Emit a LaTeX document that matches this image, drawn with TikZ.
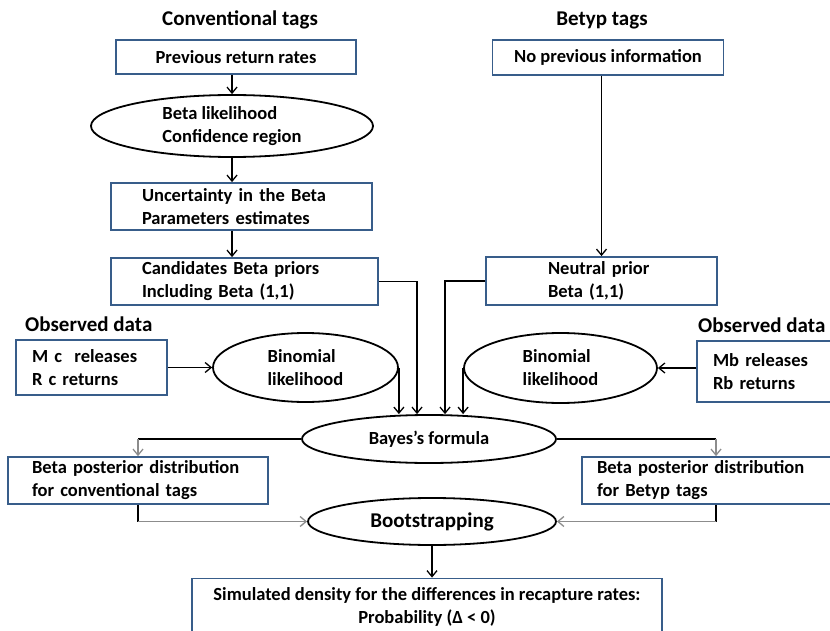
\documentclass[tikz,border=0pt]{standalone}
\usepackage{fontspec}
\setmainfont{Carlito}
\usetikzlibrary{shapes.geometric,arrows.meta}
\definecolor{boxblue}{RGB}{56,93,138}
\definecolor{arrowgray}{RGB}{140,140,140}
\tikzset{
  base/.style={font=\bfseries\fontsize{18.5}{23}\selectfont},
  head/.style={font=\bfseries\fontsize{21}{25}\selectfont, inner sep=0pt},
  cbox/.style={base, rectangle, draw=boxblue, line width=1.8pt, align=center},
  lbox/.style 2 args={base, rectangle, draw=boxblue, line width=1.8pt,
    inner xsep=#1, inner ysep=0pt, text width=#2, align=left},
  oval/.style={base, ellipse, draw, line width=1.8pt, inner sep=0pt},
  link/.style={line width=1.3pt},
  arr/.style={link, -{Straight Barb[length=6pt,width=10pt]}},
  garr/.style={link, arrowgray, -{Straight Barb[length=6pt,width=10pt]}}
}

\begin{document}
\begin{tikzpicture}[x=1pt,y=-1pt]
   \useasboundingbox (0,0) rectangle (830,631);

   % conventional tags
   \node[head] (ttlconv) at (240,20) {Conventional tags};
   \node[cbox, minimum width=240pt, minimum height=34pt] (prevrates) at (236,57) {Previous return rates};
   \node[oval, minimum width=282pt, minimum height=62pt, align=left] (betalik) at (232,126) {Beta likelihood\\Confidence region};
   \node[lbox={31pt}{199pt}, minimum height=47pt] (uncert) at (241.5,206.5) {Uncertainty in the Beta\\Parameters estimates};
   \node[lbox={31pt}{205pt}, minimum height=47pt] (candprior) at (244.5,281.5) {Candidates Beta priors\\Including Beta (1,1)};

   % betyp tags
   \node[head] (ttlbetyp) at (602,20) {Betyp tags};
   \node[cbox, minimum width=231pt, minimum height=35pt] (noinfo) at (608,57.5) {No previous information};
   \node[lbox={62pt}{107pt}, minimum height=48pt] (neutral) at (601.5,281) {Neutral prior\\Beta (1,1)};

   % observed data
   \node[head, anchor=west] (obsttlC) at (25,324) {Observed data};
   \node[lbox={16pt}{119pt}, minimum height=55pt] (obsC) at (91.5,367.5) {M c\ \ releases\\R c returns};
   \node[oval, minimum width=185pt, minimum height=69pt, align=left] (binomC) at (305.5,367.5) {Binomial\\likelihood};

   \node[head, anchor=west] (obsttlB) at (698,325) {Observed data};
   \node[lbox={16pt}{116pt}, minimum height=61pt] (obsB) at (771,371.5) {Mb releases\\Rb returns};
   \node[oval, minimum width=193pt, minimum height=70pt, align=left] (binomB) at (560.5,368) {Binomial\\likelihood};

   % posterior and bootstrap
   \node[oval, minimum width=254pt, minimum height=48pt] (bayes) at (429,439) {Bayes's formula};
   \node[lbox={24pt}{212pt}, minimum height=47pt] (postC) at (138,480.5) {Beta posterior distribution\\for conventional tags};
   \node[lbox={15pt}{238pt}, minimum height=47pt] (postB) at (716,480.5) {Beta posterior distribution\\for Betyp tags};
   \node[oval, minimum width=248pt, minimum height=47pt, font=\bfseries\fontsize{21}{25}\selectfont] (boot) at (432,521.5) {Bootstrapping};
   \node[cbox, minimum width=470pt, minimum height=56pt] (simdens) at (427,606.5) {Simulated density for the differences in recapture rates:\\Probability (Δ < 0)};

   % chains
   \draw[arr] (prevrates.south -| betalik.north) -- (betalik.north);
   \draw[arr] (betalik.south) -- (betalik.south |- uncert.north);
   \draw[arr] (betalik.south |- uncert.south) -- (betalik.south |- candprior.north);
   \draw[arr] (noinfo.south -| neutral.north) -- (neutral.north);
   \draw[arr] (obsC) -- (binomC);
   \draw[arr] (obsB.west |- binomB.east) -- (binomB.east);

   % into Bayes
   \draw[arr] (binomC.east) -- (binomC.east |- bayes.north);
   \draw[arr] (candprior.east) -| ([xshift=-12pt]bayes.north);
   \draw[arr] (neutral.west) -| ([xshift=16pt]bayes.north);
   \draw[arr] (binomB.west) -- (binomB.west |- bayes.north);

   % out of Bayes
   \draw[link] (bayes.west) -- (bayes.west -| postC.north);
   \draw[garr] (bayes.west -| postC.north) -- (postC.north);
   \draw[link] (bayes.east) -- (bayes.east -| postB.north);
   \draw[garr] (bayes.east -| postB.north) -- (postB.north);

   % into bootstrap
   \draw[link] (postC.south) -- (postC.south |- boot.west);
   \draw[garr] (postC.south |- boot.west) -- (boot.west);
   \draw[link] (postB.south) -- (postB.south |- boot.east);
   \draw[garr] (postB.south |- boot.east) -- (boot.east);

   \draw[arr] (boot.south) -- (boot.south |- simdens.north);
\end{tikzpicture}
\end{document}
